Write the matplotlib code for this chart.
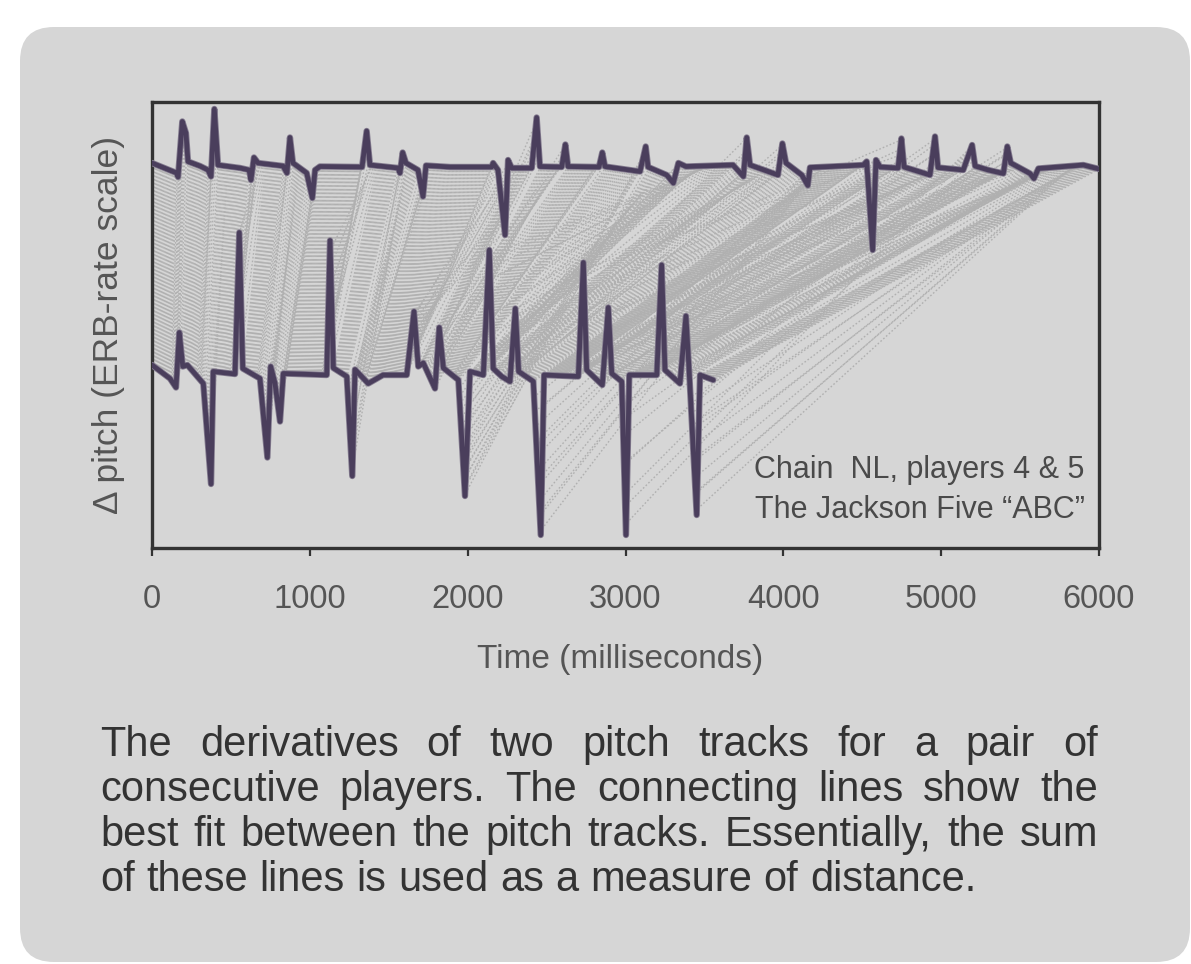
import numpy as np
import matplotlib.pyplot as plt
import matplotlib.patheffects as pe
from matplotlib.patches import FancyBboxPatch
from matplotlib.collections import LineCollection
from matplotlib.transforms import IdentityTransform

# pitch derivative, player 4 (upper track), time in ms
top_t = [0, 156, 165, 192, 215, 228, 304, 355, 374, 395, 418, 558, 615, 627, 646, 672,
         830, 855, 874, 893, 980, 1016, 1033, 1064, 1331, 1360, 1381, 1559, 1571, 1588,
         1609, 1685, 1717, 1736, 1888, 2152, 2161, 2192, 2237, 2256, 2279, 2406, 2437,
         2458, 2596, 2619, 2636, 2832, 2853, 2870, 3092, 3128, 3143, 3261, 3303, 3335,
         3383, 3681, 3747, 3768, 3789, 3966, 3994, 4017, 4117, 4155, 4169, 4507, 4528,
         4566, 4587, 4613, 4727, 4748, 4765, 4929, 4961, 4980, 5140, 5196, 5215, 5299,
         5394, 5419, 5441, 5563, 5588, 5616, 5901, 6000]
top_v = [0.08, -0.12, -0.20, 0.91, 0.68, 0.11, 0.02, -0.06, -0.19, 1.16, 0.04, -0.02,
         -0.06, -0.26, 0.19, 0.08, 0.02, -0.12, 0.59, 0.08, -0.12, -0.62, -0.06, 0.01,
         0.0, 0.72, 0.04, -0.02, -0.12, 0.29, 0.08, -0.06, -0.59, 0.03, 0.0, 0.0, 0.08,
         -0.06, -1.36, 0.14, -0.02, -0.02, 0.99, 0.01, 0.0, 0.45, 0.01, 0.0, 0.29, 0.01,
         -0.09, 0.41, 0.0, -0.16, -0.32, 0.08, 0.01, 0.04, -0.19, 0.59, 0.04, -0.16, 0.47,
         0.08, -0.16, -0.37, -0.01, 0.04, 0.11, -1.66, 0.14, 0.0, -0.02, 0.57, 0.0, -0.16,
         0.61, -0.01, -0.06, 0.44, 0.02, -0.06, -0.13, 0.41, 0.08, -0.13, -0.23, -0.03,
         0.04, -0.04]

# pitch derivative, player 5 (lower track)
bot_t = [0, 114, 152, 173, 195, 224, 325, 374, 388, 526, 553, 575, 684, 731, 752, 779,
         811, 832, 1107, 1128, 1149, 1234, 1269, 1286, 1370, 1464, 1614, 1660, 1687, 1719,
         1793, 1820, 1846, 1941, 1983, 2015, 2099, 2137, 2162, 2216, 2268, 2302, 2323,
         2416, 2463, 2484, 2701, 2733, 2754, 2853, 2891, 2913, 2976, 3003, 3024, 3198,
         3229, 3250, 3345, 3383, 3404, 3451, 3472, 3556]
bot_v = [0.14, -0.13, -0.31, 0.79, 0.11, 0.14, -0.23, -2.24, 0.01, -0.04, 2.79, 0.07,
         -0.13, -1.71, 0.11, -0.22, -0.99, -0.03, -0.06, 2.63, 0.08, -0.09, -2.08, 0.05,
         -0.23, -0.06, -0.06, 1.21, 0.11, 0.18, -0.33, 0.89, 0.08, -0.16, -2.48, 0.01,
         -0.06, 2.44, 0.07, -0.09, -0.19, 1.27, 0.01, -0.19, -3.26, -0.06, -0.09, 2.19,
         0.04, -0.26, 1.29, -0.03, -0.19, -3.26, -0.06, -0.06, 2.14, 0.04, -0.23, 1.12,
         -0.02, -2.86, -0.06, -0.16]

# best-fit (warping) path: matching times on the two tracks
warp_top = [0, 500, 1000, 1400, 1800, 2237, 2437, 2800, 3200, 3700, 4200, 4700, 5200, 5600, 6000]
warp_bot = [0, 400, 800, 1130, 1400, 1650, 1750, 1900, 2000, 2200, 2450, 2700, 3000, 3300, 3556]

top_offset = 4.1
xticks = [0, 1000, 2000, 3000, 4000, 5000, 6000]

caption = ["The derivatives of two pitch tracks for a pair of",
           "consecutive players. The connecting lines show the",
           "best fit between the pitch tracks. Essentially, the sum",
           "of these lines is used as a measure of distance."]

W, H = 1191, 964
fig = plt.figure(figsize=(W / 100, H / 100), dpi=100, facecolor="white")
plt.rcParams["font.family"] = ["Liberation Sans", "DejaVu Sans"]

panel = FancyBboxPatch((20, H - 962), 1170, 935, boxstyle="round,pad=0,rounding_size=34",
                       transform=IdentityTransform(), facecolor="#d6d6d6",
                       edgecolor="none", zorder=-1)
fig.add_artist(panel)

ax = fig.add_axes([152 / W, 1 - 548 / H, 947 / W, 446 / H])
ax.set_facecolor("none")

# connecting lines along the warping path
seg_len = np.abs(np.diff(warp_top)) + np.abs(np.diff(warp_bot))
cum = np.concatenate([[0], np.cumsum(seg_len)])
u = np.linspace(0, cum[-1], 700)
t1 = np.interp(u, cum, warp_top)
t2 = np.interp(u, cum, warp_bot)
y1 = np.interp(t1, top_t, top_v) + top_offset
y2 = np.interp(t2, bot_t, bot_v)
segs = [[(a, b), (c, d)] for a, b, c, d in zip(t1, y1, t2, y2)]
lc = LineCollection(segs, colors="#b0b0b0", linewidths=1.0, linestyles=(0, (1.2, 1.5)), zorder=1)
ax.add_collection(lc)

track_col = "#4a3e5c"
edge = [pe.Stroke(linewidth=4.6, foreground="#857d90"), pe.Normal()]
ax.plot(top_t, np.array(top_v) + top_offset, color=track_col, lw=3.4,
        solid_joinstyle="round", solid_capstyle="round", zorder=3, path_effects=edge)
ax.plot(bot_t, bot_v, color=track_col, lw=3.4,
        solid_joinstyle="round", solid_capstyle="round", zorder=3, path_effects=edge)

ax.set_xlim(0, 6000)
ax.set_ylim(-3.52, 5.4)
ax.set_xticks(xticks)
ax.set_xticklabels([str(x) for x in xticks])
ax.set_yticks([])
ax.tick_params(axis="x", direction="out", length=6, width=1.6, color="#333333",
               labelsize=23.5, labelcolor="#555555", pad=20, top=False)
for s in ax.spines.values():
    s.set_color("#333333")
    s.set_linewidth(2.4)

ax.set_xlabel("Time (milliseconds)", fontsize=24, color="#555555")
ax.xaxis.set_label_coords(0.494, -0.215)
ax.set_ylabel("Δ pitch (ERB-rate scale)", fontsize=25.5, color="#555555")
ax.yaxis.set_label_coords(-0.028, 0.5)

ax.text(0.985, 0.175, "Chain  NL, players 4 & 5", transform=ax.transAxes,
        ha="right", va="center", fontsize=22, color="#4a4a4a")
ax.text(0.985, 0.085, "The Jackson Five “ABC”", transform=ax.transAxes,
        ha="right", va="center", fontsize=22, color="#4a4a4a")

# justified caption
fig.canvas.draw()
r = fig.canvas.get_renderer()
x_left, x_right = 100, 1098
line_y = [745, 790, 835, 880]
probe = fig.text(0, 0, "a a", fontsize=30)
probe2 = fig.text(0, 0, "aa", fontsize=30)
space_w = probe.get_window_extent(r).width - probe2.get_window_extent(r).width
probe.remove()
probe2.remove()
for i, line in enumerate(caption):
    words = line.split()
    texts = [fig.text(0, 1 - line_y[i] / H, w, fontsize=30, color="#333333",
                      ha="left", va="center") for w in words]
    widths = [t.get_window_extent(r).width for t in texts]
    if i < len(caption) - 1:
        gap = (x_right - x_left - sum(widths)) / (len(words) - 1)
    else:
        gap = space_w
    x = x_left
    for t, w in zip(texts, widths):
        t.set_x(x / W)
        x += w + gap

fig.savefig("out.png", dpi=100, facecolor="white")
